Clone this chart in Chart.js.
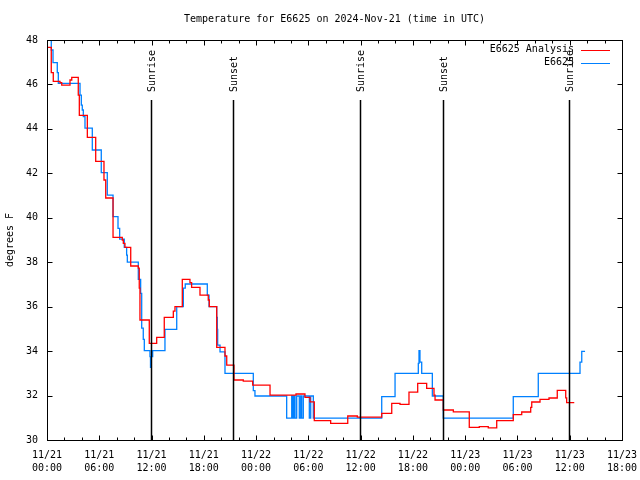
<!DOCTYPE html>
<html>
<head>
<meta charset="utf-8">
<script src="https://cdn.jsdelivr.net/npm/chart.js@4.4.0/dist/chart.umd.min.js"></script>
<style>
  html, body { margin: 0; padding: 0; background: #fff; }
</style>
</head>
<body>
<canvas id="chart" width="640" height="480"></canvas>
<script>
// hours since 2024-11-21 00:00 UTC, value starts at that hour (step plot)
var analysisHours = [0, 0.49, 0.72, 1.49, 1.69, 2.64, 2.84, 3.59, 3.71, 4.63, 5.59, 6.54, 6.74, 7.58, 8.64, 8.76, 8.95,
  9.61, 10.48, 10.59, 10.67, 11.74, 12.59, 13.46, 14.5, 14.69, 15.53, 16.41, 16.6, 17.56, 18.51, 18.63, 19.48,
  20.43, 20.63, 21.46, 22.53, 23.61, 25.6, 28.58, 29.61, 30.19, 30.68, 32.56, 34.52, 35.62, 38.42, 39.57, 40.52,
  41.55, 42.55, 43.58, 44.42, 44.54, 45.49, 46.64, 48.47, 49.62, 50.65, 51.62, 53.52, 54.49, 55.52, 55.64,
  56.59, 57.62, 58.57, 59.54, 59.65, 60.52];
var analysisTemps = [47.67, 46.53, 46.14, 46.08, 45.97, 46.2, 46.32, 45.52, 44.61, 43.62, 42.54, 41.7, 40.89, 39.12, 39.0, 38.85, 38.67,
  37.83, 37.73, 36.83, 35.4, 34.35, 34.62, 35.52, 35.8, 36.0, 37.23, 37.08, 36.87, 36.52, 36.3, 36.0, 34.17,
  33.78, 33.37, 32.7, 32.65, 32.47, 32.02, 32.07, 31.92, 31.72, 30.87, 30.75, 31.08, 31.03, 31.2, 31.65, 31.6,
  32.15, 32.55, 32.32, 32.02, 31.8, 31.35, 31.27, 30.57, 30.6, 30.55, 30.87, 31.14, 31.26, 31.47, 31.71,
  31.83, 31.89, 32.23, 31.9, 31.68, 31.68];

var obsHours = [0, 0.49, 0.69, 1.18, 1.30, 3.79, 3.94, 4.05, 4.17, 4.36, 5.2, 6.23, 6.92, 7.58, 8.15, 8.34, 8.87,
  9.14, 9.22, 10.48, 10.75, 10.87, 11.05, 11.17, 11.82, 11.88, 11.96, 12.13, 13.54, 14.89, 15.65, 15.87, 18.4,
  18.6, 19.48, 19.55, 19.59, 19.86, 20.43, 23.68, 23.87, 27.51, 28.09, 28.2, 28.35, 28.47, 28.66, 28.96, 29.12,
  29.24, 29.42, 30.11, 30.27, 30.57, 38.42, 39.95, 42.62, 42.7, 42.81, 43.01, 44.23, 45.49, 53.52, 56.39,
  61.18, 61.38, 61.76];
var obsTemps = [48.2, 47.55, 46.98, 46.53, 46.05, 45.52, 45.07, 44.85, 44.55, 44.03, 43.05, 42.03, 41.02, 40.05, 39.52, 39.04, 38.67,
  38.32, 38.0, 37.23, 36.6, 35.03, 34.53, 34.02, 33.75, 33.27, 33.75, 34.02, 34.98, 36.0, 36.83, 37.02, 36.52,
  36.0, 35.52, 34.98, 34.27, 33.97, 33.0, 32.22, 31.98, 30.98, 31.98, 30.98, 31.98, 30.98, 31.98, 30.98, 31.98,
  30.98, 31.98, 30.98, 31.98, 30.98, 31.95, 33.0, 33.45, 34.02, 33.5, 33.0, 31.98, 30.98, 31.95, 33.0,
  33.5, 33.99, 33.99];

var sunHours = [11.95, 21.35, 35.95, 45.45, 59.97];
var sunLabels = ['Sunrise', 'Sunset', 'Sunrise', 'Sunset', 'Sunrise'];

var xTickDates = ['11/21', '11/21', '11/21', '11/21', '11/22', '11/22', '11/22', '11/22', '11/23', '11/23', '11/23', '11/23'];
var xTickTimes = ['00:00', '06:00', '12:00', '18:00', '00:00', '06:00', '12:00', '18:00', '00:00', '06:00', '12:00', '18:00'];

var seriesNames = ['E6625 Analysis', 'E6625'];
var seriesColors = ['#ff0000', '#0080ff'];

var FONT = 'DejaVu Sans Mono';

function toPoints(xs, ys) {
  var pts = [];
  for (var i = 0; i < xs.length; i++) pts.push({x: xs[i], y: ys[i]});
  return pts;
}

// gnuplot style frame, inward ticks, sun markers, title and key
var gnuplotBits = {
  id: 'gnuplotBits',
  afterDatasetsDraw: function(chart) {
    var ctx = chart.ctx, a = chart.chartArea;
    var xs = chart.scales.x, ys = chart.scales.y;
    var L = Math.round(a.left) + 0.5, R = Math.round(a.right) + 0.5;
    var T = Math.round(a.top) + 0.5, B = Math.round(a.bottom) + 0.5;
    ctx.save();
    ctx.strokeStyle = '#000';
    ctx.lineWidth = 1;

    // sunrise / sunset lines
    ctx.fillStyle = '#000';
    ctx.font = '10px "' + FONT + '"';
    for (var s = 0; s < sunHours.length; s++) {
      var sx = Math.round(xs.getPixelForValue(sunHours[s])) + 0.5;
      ctx.lineWidth = 1.5;
      ctx.beginPath();
      ctx.moveTo(sx, a.top + 60);
      ctx.lineTo(sx, a.bottom);
      ctx.stroke();
      ctx.save();
      ctx.translate(sx + 1, a.top + 52);
      ctx.rotate(-Math.PI / 2);
      ctx.textAlign = 'left';
      ctx.textBaseline = 'middle';
      ctx.fillText(sunLabels[s], 0, 0);
      ctx.restore();
    }
    ctx.lineWidth = 1;

    // frame
    ctx.strokeRect(L, T, R - L, B - T);

    // x ticks, major every 6h, minor every 2h
    ctx.beginPath();
    for (var h = xs.min; h <= xs.max; h += 2) {
      var px = Math.round(xs.getPixelForValue(h)) + 0.5;
      var len = (h % 6 === 0) ? 5 : 3;
      ctx.moveTo(px, B); ctx.lineTo(px, B - len);
      ctx.moveTo(px, T); ctx.lineTo(px, T + len);
    }
    // y ticks
    ys.ticks.forEach(function(t) {
      var py = Math.round(ys.getPixelForValue(t.value)) + 0.5;
      ctx.moveTo(L, py); ctx.lineTo(L + 5, py);
      ctx.moveTo(R, py); ctx.lineTo(R - 5, py);
    });
    ctx.stroke();

    // title
    ctx.textAlign = 'center';
    ctx.textBaseline = 'middle';
    ctx.fillText('Temperature for E6625 on 2024-Nov-21 (time in UTC)', (a.left + a.right) / 2, 19);

    // key
    ctx.textAlign = 'right';
    for (var k = 0; k < seriesNames.length; k++) {
      var ky = a.top + 9.5 + k * 13;
      ctx.fillStyle = '#000';
      ctx.fillText(seriesNames[k], a.right - 48, ky);
      ctx.strokeStyle = seriesColors[k];
      ctx.beginPath();
      ctx.moveTo(a.right - 41, Math.round(ky) + 0.5);
      ctx.lineTo(a.right - 12, Math.round(ky) + 0.5);
      ctx.stroke();
    }
    ctx.restore();
  }
};

var ctx = document.getElementById('chart');
new Chart(ctx, {
  type: 'line',
  data: {
    datasets: [
      {
        label: seriesNames[0],
        data: toPoints(analysisHours, analysisTemps),
        borderColor: seriesColors[0],
        borderWidth: 1.3,
        stepped: true,
        pointRadius: 0,
        fill: false
      },
      {
        label: seriesNames[1],
        data: toPoints(obsHours, obsTemps),
        borderColor: seriesColors[1],
        borderWidth: 1.3,
        stepped: true,
        pointRadius: 0,
        fill: false
      }
    ]
  },
  options: {
    responsive: false,
    animation: false,
    layout: { padding: { top: 40, right: 18, left: 0, bottom: 0 } },
    plugins: {
      legend: { display: false },
      title: { display: false },
      tooltip: { enabled: false }
    },
    scales: {
      x: {
        type: 'linear',
        min: 0,
        max: 66,
        afterFit: function(s) { s.height = 40; s.paddingLeft = 0; s.paddingRight = 0; },
        grid: { display: false, drawTicks: false },
        border: { display: false },
        ticks: {
          stepSize: 6,
          autoSkip: false,
          maxRotation: 0,
          padding: 9,
          color: '#000',
          font: { family: FONT, size: 10, lineHeight: 1.3 },
          callback: function(v) {
            var i = Math.round(v / 6);
            return [xTickDates[i], xTickTimes[i]];
          }
        }
      },
      y: {
        min: 30,
        max: 48,
        afterFit: function(s) { s.width = 47; },
        grid: { display: false, drawTicks: false },
        border: { display: false },
        ticks: {
          stepSize: 2,
          padding: 9,
          color: '#000',
          font: { family: FONT, size: 10 }
        },
        title: {
          display: true,
          text: 'degrees F',
          color: '#000',
          font: { family: FONT, size: 10 }
        }
      }
    }
  },
  plugins: [gnuplotBits]
});
</script>
</body>
</html>
